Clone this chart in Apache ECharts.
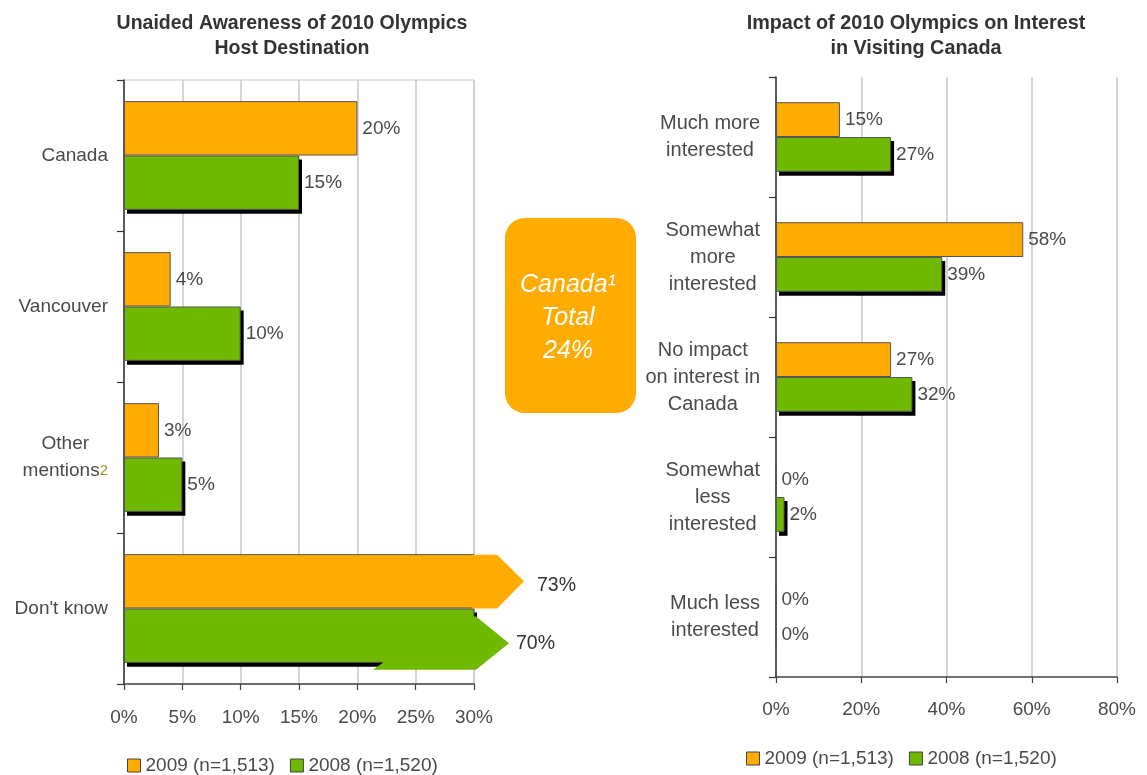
<!DOCTYPE html>
<html><head><meta charset="utf-8">
<script src="https://cdn.jsdelivr.net/npm/echarts@6/dist/echarts.min.js"></script>
<style>html,body{margin:0;padding:0;background:#fff}#c{width:1147px;height:775px}</style>
</head><body><div id="c"></div>
<script>
// ---- data ----
const leftCategories = ['Canada', 'Vancouver', 'Other\nmentions', "Don't know"];
const leftFootnotes = ['', '', '2', ''];
const left2009 = [20, 4, 3, 73];
const left2008 = [15, 10, 5, 70];
const rightCategories = ['Much more\ninterested', 'Somewhat\nmore\ninterested', 'No impact\non interest in\nCanada', 'Somewhat\nless\ninterested', 'Much less\ninterested'];
const right2009 = [15, 58, 27, 0, 0];
const right2008 = [27, 39, 32, 2, 0];
const seriesNames = ['2009 (n=1,513)', '2008 (n=1,520)'];
const leftTitle = 'Unaided Awareness of 2010 Olympics\nHost Destination';
const rightTitle = 'Impact of 2010 Olympics on Interest\nin Visiting Canada';
const calloutLines = ['Canada\u00b9', 'Total', '24%'];

// ---- styles ----
const FONT = 'Liberation Sans';
const ORANGE = '#FFAB00';
const GREEN = '#6FBA00';
const TXT = '#4a4a4a';
const GRIDC = '#c8c8c8';
const LEFT_MAX = 30, LEFT_INT = 5, RIGHT_MAX = 80, RIGHT_INT = 20;
const LEFT_GAP = 0.28, RIGHT_GAP = 0.42;

const chart = echarts.init(document.getElementById('c'), null, {renderer: 'canvas'});

function catFormatter(notes) {
  return function (v, i) {
    const lines = String(v).split('\n');
    return lines.map((l, k) => '{c|' + l + '}' + (k === lines.length - 1 && notes && notes[i] ? '{s|' + notes[i] + '}' : '')).join('\n');
  };
}
function makeRich(size) {
  return {
    c: {fontSize: size, lineHeight: 27, color: TXT, align: 'center', fontFamily: FONT},
    s: {fontSize: 15, lineHeight: 27, color: '#8e9a1e', align: 'center', fontFamily: FONT}
  };
}

function valueAxis(gi, max, interval, margin) {
  return {
    type: 'value', gridIndex: gi, min: 0, max: max, interval: interval,
    axisLine: {show: true, lineStyle: {color: '#444', width: 1.5}},
    axisTick: {show: true, length: 6, lineStyle: {color: '#444', width: 1.2}},
    axisLabel: {formatter: '{value}%', margin: margin, fontSize: 19, color: TXT, fontFamily: FONT},
    splitLine: {show: true, lineStyle: {color: GRIDC, width: 1.5}}
  };
}
function catAxis(gi, data, notes, margin, size) {
  return {
    type: 'category', gridIndex: gi, data: data, inverse: true,
    axisLine: {show: true, lineStyle: {color: '#333', width: 1.5}},
    axisTick: {show: true, length: 7, interval: 0, lineStyle: {color: '#333', width: 1.2}},
    axisLabel: {interval: 0, margin: margin, formatter: catFormatter(notes), rich: makeRich(size), fontSize: size, color: TXT, fontFamily: FONT},
    splitLine: {show: false}
  };
}
function labelFmt(max) {
  return p => (p.value > max ? '' : p.value + '%');
}
function barSeries(name, gi, data, color, gap, max) {
  return {
    name: name, type: 'bar', xAxisIndex: gi, yAxisIndex: gi, data: data, z: 3,
    barGap: '0%', barCategoryGap: (gap * 100) + '%',
    itemStyle: {color: color, borderColor: '#555', borderWidth: 1},
    label: {show: true, position: 'right', distance: 5, formatter: labelFmt(max), fontSize: 19, color: TXT, fontFamily: FONT},
    emphasis: {disabled: true}
  };
}

// drop shadow under the 2008 bars (second bar of each group)
function shadowSeries(gi, data, gap, max) {
  return {
    type: 'custom', name: 'shadow' + gi, xAxisIndex: gi, yAxisIndex: gi, z: 1, silent: true, clip: false,
    data: data.map((v, i) => [v, i]),
    renderItem: function (params, api) {
      const v = Math.min(api.value(0), max), cat = api.value(1);
      const p0 = api.coord([0, cat]), p1 = api.coord([v, cat]);
      const band = api.size([0, 1])[1];
      const group = band * (1 - gap);
      const h = group / 2;
      const top = p0[1] - group / 2 + h;
      const w = p1[0] - p0[0];
      if (w < 1) return null;
      return {type: 'rect', shape: {x: p0[0] + 3, y: top + 4, width: w, height: h}, style: {fill: '#000'}};
    }
  };
}

// arrow overlays for values beyond the left axis max
const arrowData = [];
[left2009, left2008].forEach((arr, s) => arr.forEach((v, i) => { if (v > LEFT_MAX) arrowData.push([v, i, s]); }));

function renderArrow(params, api) {
  const val = api.value(0), cat = api.value(1), s = api.value(2);
  const end = api.coord([LEFT_MAX, cat]);
  const band = api.size([0, 1])[1];
  const group = band * (1 - LEFT_GAP);
  const h = group / 2;
  const top = end[1] - group / 2 + s * h;
  const bot = top + h;
  const xr = end[0];
  let pts, tx, ty;
  if (s === 0) {
    pts = [[xr - 2, top + 0.5], [xr + 23, top + 0.5], [xr + 50, top + h / 2], [xr + 23, bot], [xr - 2, bot]];
    tx = xr + 63; ty = top + h / 2 + 4;
  } else {
    const t = top + 8, b = bot + 7;
    pts = [[xr - 91, t], [xr + 2, t], [xr + 35, (t + b) / 2], [xr + 2, b], [xr - 101, b], [xr - 91, b - 7]];
    tx = xr + 42; ty = (t + b) / 2;
  }
  return {
    type: 'group',
    children: [
      {type: 'polygon', shape: {points: pts}, style: {fill: s === 0 ? ORANGE : GREEN}},
      {type: 'text', style: {text: val + '%', x: tx, y: ty, align: 'left', verticalAlign: 'middle', fontSize: 19.5, fill: '#333', fontFamily: FONT}}
    ]
  };
}

const legendCommon = {
  icon: 'rect', itemWidth: 13, itemHeight: 13, itemGap: 15, selectedMode: false,
  textStyle: {fontSize: 19, color: TXT, fontFamily: FONT},
  itemStyle: {borderColor: '#444', borderWidth: 1, shadowColor: 'rgba(0,0,0,0)', shadowBlur: 0, shadowOffsetX: 0, shadowOffsetY: 0},
  data: seriesNames
};

const option = {
  animation: false,
  backgroundColor: '#fff',
  textStyle: {fontFamily: FONT},
  grid: [
    {left: 124, top: 80, width: 350, height: 604, show: true, borderColor: GRIDC, borderWidth: 1, backgroundColor: 'rgba(0,0,0,0)'},
    {left: 776, top: 77, width: 341, height: 600}
  ],
  xAxis: [valueAxis(0, LEFT_MAX, LEFT_INT, 24), valueAxis(1, RIGHT_MAX, RIGHT_INT, 23)],
  yAxis: [catAxis(0, leftCategories, leftFootnotes, 16, 19), catAxis(1, rightCategories, null, 16, 20)],
  legend: [
    Object.assign({left: 122, top: 751}, legendCommon),
    Object.assign({left: 741, top: 744}, legendCommon)
  ],
  graphic: [
    {type: 'text', x: 292, y: 11, style: {text: leftTitle, align: 'center', verticalAlign: 'top', fontSize: 19.5, fontWeight: 'bold', lineHeight: 25, fill: '#333', fontFamily: FONT}},
    {type: 'text', x: 916, y: 11, style: {text: rightTitle, align: 'center', verticalAlign: 'top', fontSize: 19.8, fontWeight: 'bold', lineHeight: 25, fill: '#333', fontFamily: FONT}},
    {type: 'rect', x: 505, y: 218, shape: {x: 0, y: 0, width: 131, height: 195, r: 20}, style: {fill: ORANGE}},
    {type: 'text', x: 568, y: 318, style: {text: calloutLines.join('\n'), align: 'center', verticalAlign: 'middle', fontSize: 25, fontStyle: 'italic', lineHeight: 33, fill: '#fff', fontFamily: FONT}}
  ],
  series: [
    barSeries(seriesNames[0], 0, left2009, ORANGE, LEFT_GAP, LEFT_MAX),
    barSeries(seriesNames[1], 0, left2008, GREEN, LEFT_GAP, LEFT_MAX),
    shadowSeries(0, left2008, LEFT_GAP, LEFT_MAX),
    {type: 'custom', name: 'overflow', xAxisIndex: 0, yAxisIndex: 0, data: arrowData, renderItem: renderArrow, z: 5, clip: false, silent: true},
    barSeries(seriesNames[0], 1, right2009, ORANGE, RIGHT_GAP, RIGHT_MAX),
    barSeries(seriesNames[1], 1, right2008, GREEN, RIGHT_GAP, RIGHT_MAX),
    shadowSeries(1, right2008, RIGHT_GAP, RIGHT_MAX)
  ]
};
chart.setOption(option);
</script>
</body></html>
